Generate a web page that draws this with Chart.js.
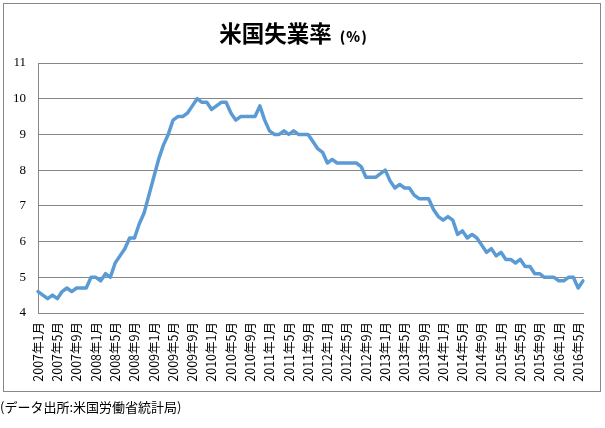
<!DOCTYPE html>
<html>
<head>
<meta charset="utf-8">
<script src="https://cdn.jsdelivr.net/npm/chart.js@4"></script>
<style>
html,body{margin:0;padding:0;background:#fff;}
#wrap{position:relative;width:605px;height:428px;overflow:hidden;background:#fff;}
#frame{position:absolute;left:3px;top:3px;width:598px;height:389px;box-sizing:border-box;border:1px solid #888;}
#title{position:absolute;left:0;top:19px;width:587px;text-align:center;font-family:"Noto Sans CJK JP",sans-serif;font-weight:bold;color:#000;white-space:nowrap;line-height:26px;}
#title .main{font-size:22.5px;}
#title .unit{font-size:14px;margin-left:8px;letter-spacing:1px;font-weight:900;}
#note{position:absolute;left:0;top:399px;font-family:"Noto Sans CJK JP",sans-serif;font-size:13px;line-height:16px;color:#000;white-space:nowrap;}
canvas{position:absolute;left:0;top:0;}
</style>
</head>
<body>
<div id="wrap">
  <div id="frame"></div>
  <canvas id="c" width="605" height="428"></canvas>
  <div id="title"><span class="main">米国失業率</span><span class="unit">(%)</span></div>
  <div id="note">(データ出所:米国労働省統計局)</div>
</div>
<script>
// Monthly US unemployment rate (%), Jan 2007 - Jun 2016
const years = [2007, 2008, 2009, 2010, 2011, 2012, 2013, 2014, 2015, 2016];
const u2007 = [4.6, 4.5, 4.4, 4.5, 4.4, 4.6, 4.7, 4.6, 4.7, 4.7, 4.7, 5.0];
const u2008 = [5.0, 4.9, 5.1, 5.0, 5.4, 5.6, 5.8, 6.1, 6.1, 6.5, 6.8, 7.3];
const u2009 = [7.8, 8.3, 8.7, 9.0, 9.4, 9.5, 9.5, 9.6, 9.8, 10.0, 9.9, 9.9];
const u2010 = [9.7, 9.8, 9.9, 9.9, 9.6, 9.4, 9.5, 9.5, 9.5, 9.5, 9.8, 9.4];
const u2011 = [9.1, 9.0, 9.0, 9.1, 9.0, 9.1, 9.0, 9.0, 9.0, 8.8, 8.6, 8.5];
const u2012 = [8.2, 8.3, 8.2, 8.2, 8.2, 8.2, 8.2, 8.1, 7.8, 7.8, 7.8, 7.9];
const u2013 = [8.0, 7.7, 7.5, 7.6, 7.5, 7.5, 7.3, 7.2, 7.2, 7.2, 6.9, 6.7];
const u2014 = [6.6, 6.7, 6.6, 6.2, 6.3, 6.1, 6.2, 6.1, 5.9, 5.7, 5.8, 5.6];
const u2015 = [5.7, 5.5, 5.5, 5.4, 5.5, 5.3, 5.3, 5.1, 5.1, 5.0, 5.0, 5.0];
const u2016 = [4.9, 4.9, 5.0, 5.0, 4.7, 4.9];

const tickLabels = [
  "2007年1月","2007年5月","2007年9月",
  "2008年1月","2008年5月","2008年9月",
  "2009年1月","2009年5月","2009年9月",
  "2010年1月","2010年5月","2010年9月",
  "2011年1月","2011年5月","2011年9月",
  "2012年1月","2012年5月","2012年9月",
  "2013年1月","2013年5月","2013年9月",
  "2014年1月","2014年5月","2014年9月",
  "2015年1月","2015年5月","2015年9月",
  "2016年1月","2016年5月"
];
const yTicks = [4, 5, 6, 7, 8, 9, 10, 11];

const series = [u2007, u2008, u2009, u2010, u2011, u2012, u2013, u2014, u2015, u2016];
const values = [];
const categories = [];
series.forEach((arr, yi) => {
  arr.forEach((v, mi) => {
    values.push(v);
    categories.push(years[yi] + "年" + (mi + 1) + "月");
  });
});

const gridColor = "#878787";

new Chart(document.getElementById("c"), {
  type: "line",
  data: {
    labels: categories,
    datasets: [{
      label: "米国失業率",
      data: values,
      borderColor: "#5B9BD5",
      backgroundColor: "#5B9BD5",
      borderWidth: 3.5,
      pointRadius: 0,
      pointHoverRadius: 0,
      tension: 0,
      fill: false,
      borderJoinStyle: "round",
      borderCapStyle: "round"
    }]
  },
  options: {
    responsive: false,
    animation: false,
    events: [],
    layout: { padding: { top: 63, right: 22, left: 0, bottom: 0 } },
    plugins: {
      legend: { display: false },
      title: { display: false },
      tooltip: { enabled: false }
    },
    scales: {
      x: {
        type: "category",
        offset: false,
        grid: { display: false, drawTicks: false },
        border: { display: true, color: gridColor, width: 1 },
        ticks: {
          autoSkip: false,
          minRotation: 90,
          maxRotation: 90,
          padding: 9,
          color: "#000",
          font: { family: "'Noto Sans CJK JP', sans-serif", size: 12.5 },
          callback: function (value, index) {
            return index % 4 === 0 ? tickLabels[index / 4] : null;
          }
        },
        afterFit: function (s) { s.height = 115; }
      },
      y: {
        min: yTicks[0],
        max: yTicks[yTicks.length - 1],
        grid: { color: gridColor, lineWidth: 1, drawTicks: false },
        border: { display: true, color: gridColor, width: 1 },
        ticks: {
          stepSize: 1,
          padding: 12,
          color: "#000",
          font: { family: "'Liberation Serif', serif", size: 13 }
        },
        afterFit: function (s) { s.width = 38; }
      }
    }
  }
});
</script>
</body>
</html>
